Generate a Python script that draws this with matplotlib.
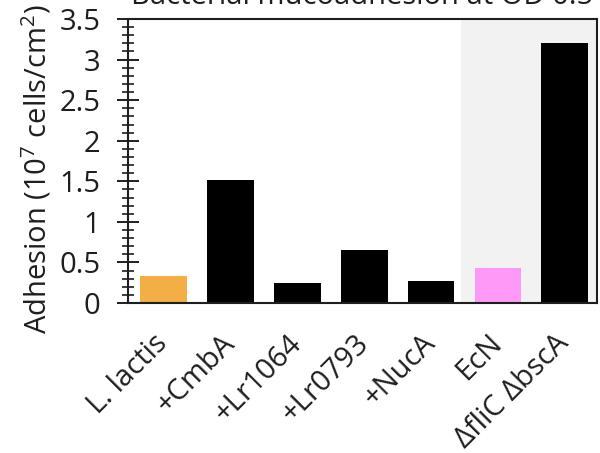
import matplotlib
matplotlib.use("Agg")
import matplotlib.pyplot as plt
from matplotlib.ticker import MultipleLocator

plt.rcParams["font.family"] = ["Open Sans", "DejaVu Sans"]
plt.rcParams["mathtext.fontset"] = "custom"
plt.rcParams["mathtext.rm"] = "Open Sans"
plt.rcParams["mathtext.it"] = "Open Sans:italic"

# adhesion, 10^7 cells/cm^2
strains = ["L. lactis", "+CmbA", "+Lr1064", "+Lr0793", "+NucA", "EcN", "ΔfliC ΔbscA"]
adhesion = [0.33, 1.52, 0.25, 0.65, 0.27, 0.43, 3.20]
bar_colors = ["#F3AE45", "black", "black", "black", "black", "#FF99F8", "black"]

INK = "#1e1e1e"
FS = 21

fig = plt.figure(figsize=(6.0, 4.53), dpi=100)
ax = fig.add_axes([0.2133, 0.3311, 0.7817, 0.6269])

x = list(range(len(strains)))
# shaded block behind the E. coli strains
ax.axvspan(4.45, 6.6, color="#F2F2F2", zorder=0, lw=0)
ax.bar(x, adhesion, width=0.7, color=bar_colors, zorder=2)

ax.set_xlim(-0.53, 6.48)
ax.set_ylim(0, 3.5)

ax.yaxis.set_major_locator(MultipleLocator(0.5))
ax.yaxis.set_minor_locator(MultipleLocator(0.1))
ax.set_yticklabels([f"{v:g}" for v in ax.get_yticks()])
ax.tick_params(axis="y", which="major", direction="inout", length=16,
               width=1.4, color=INK, pad=12, labelsize=FS, labelcolor=INK)
ax.tick_params(axis="y", which="minor", direction="inout", length=8,
               width=1.2, color=INK)

ax.set_xticks(x)
ax.set_xticklabels(strains)
ax.tick_params(axis="x", length=0, pad=26, labelsize=FS, labelcolor=INK)
plt.setp(ax.get_xticklabels(), rotation=45, ha="right", va="center",
         rotation_mode="anchor")

for side in ax.spines.values():
    side.set_linewidth(1.5)
    side.set_color(INK)

ax.set_ylabel("Adhesion (10$^7$ cells/cm$^2$)", fontsize=FS, color=INK,
              labelpad=4)
ax.yaxis.label.set_y(0.472)
ax.set_title("Bacterial mucoadhesion at OD 0.5", fontsize=FS, color=INK,
             pad=11)

fig.savefig("out.png", dpi=100, facecolor="white")
